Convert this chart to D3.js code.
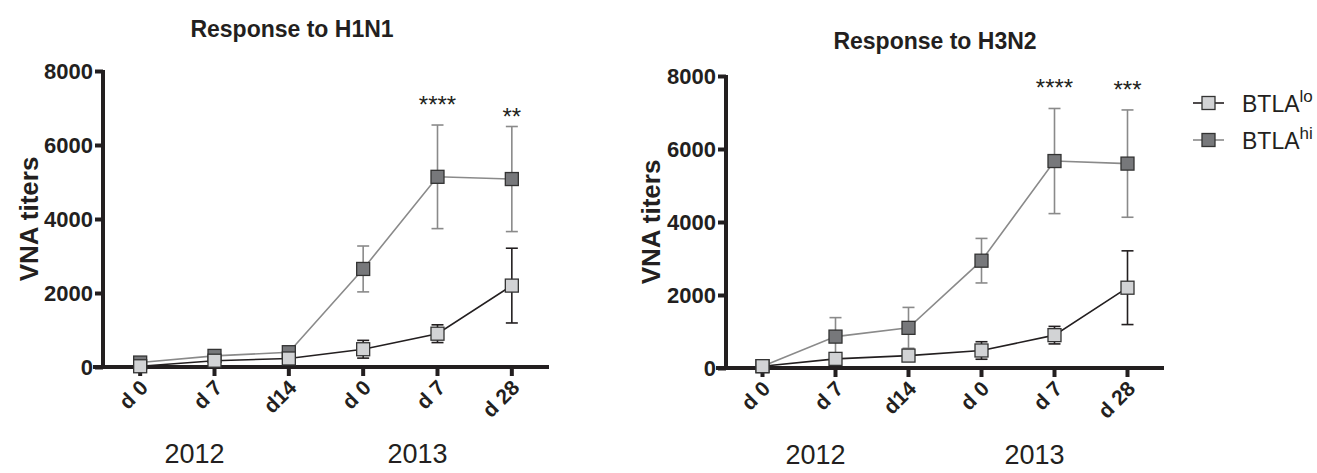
<!DOCTYPE html>
<html>
<head>
<meta charset="utf-8">
<script src="https://cdn.jsdelivr.net/npm/d3@7"></script>
<style>
  body { margin: 0; background: #fff; }
  svg { font-family: "Liberation Sans", Arial, sans-serif; }
</style>
</head>
<body>
<div id="chart"></div>
<script>
// timepoints and years
const timepoints = ["d 0", "d 7", "d14", "d 0", "d 7", "d 28"];
const years = ["2012", "2013"];
const yTicks = [0, 2000, 4000, 6000, 8000];

// H1N1 panel
const h1Lo = [20, 170, 230, 480, 900, 2200];
const h1LoErr = [20, 40, 50, 240, 240, 1010];
const h1Hi = [120, 300, 400, 2650, 5140, 5080];
const h1HiErr = [60, 60, 60, 620, 1400, 1420];
const h1Stars = [null, null, null, null, "****", "**"];

// H3N2 panel
const h3Lo = [50, 250, 340, 480, 900, 2200];
const h3LoErr = [20, 60, 70, 240, 240, 1010];
const h3Hi = [50, 860, 1100, 2940, 5670, 5600];
const h3HiErr = [20, 520, 560, 610, 1440, 1470];
const h3Stars = [null, null, null, null, "****", "***"];

const ink = "#231f20";
const loFill = "#d2d3d5", hiFill = "#77787b";
const loLine = "#231f20", hiLine = "#8a8a8a";

const W = 1317, H = 473;
const svg = d3.select("#chart").append("svg").attr("width", W).attr("height", H);

function panel(opt) {
    const g = svg.append("g");
    const x = d3.scaleBand().domain(d3.range(timepoints.length)).range([opt.x0, opt.x1]);
    const y = d3.scaleLinear().domain([0, 8000]).range([opt.y0, opt.y1]);
    const cx = i => x(i) + x.bandwidth() / 2;

    // title
    g.append("text").attr("x", opt.titleX).attr("y", opt.titleY)
        .attr("text-anchor", "middle").attr("font-weight", "bold").attr("font-size", 23)
        .attr("fill", ink).text(opt.title);

    // y axis
    const ya = g.append("g").attr("transform", `translate(${opt.x0},0)`)
        .call(d3.axisLeft(y).tickValues(yTicks).tickSize(8).tickPadding(2).tickFormat(d3.format("d")));
    ya.select(".domain").attr("stroke", ink).attr("stroke-width", 4).attr("d", `M0,${opt.y1 - 1}V${opt.y0}`);
    ya.selectAll(".tick line").attr("stroke", ink).attr("stroke-width", 4);
    ya.selectAll(".tick text").attr("fill", ink).attr("font-size", 22).attr("font-weight", "bold")
        .attr("font-family", "Liberation Sans, Arial, sans-serif");

    // x axis
    const xa = g.append("g").attr("transform", `translate(0,${opt.y0})`)
        .call(d3.axisBottom(x).tickSize(9).tickFormat(i => timepoints[i]));
    xa.select(".domain").attr("stroke", ink).attr("stroke-width", 4).attr("d", `M${opt.x0 - 10},0H${opt.x1}`);
    xa.selectAll(".tick line").attr("stroke", ink).attr("stroke-width", 4);
    xa.selectAll(".tick text")
        .attr("fill", ink).attr("font-size", 21).attr("font-weight", "bold")
        .attr("font-family", "Liberation Sans, Arial, sans-serif")
        .attr("text-anchor", "end").attr("dy", null).attr("y", 0)
        .attr("transform", "translate(9,22) rotate(-45)");

    // y label
    g.append("text").attr("transform", `translate(${opt.labelX},${(opt.y0 + opt.y1) / 2}) rotate(-90)`)
        .attr("text-anchor", "middle").attr("font-weight", "bold").attr("font-size", 26)
        .attr("fill", ink).text("VNA titers");

    // years
    [[0, 2], [3, 5]].forEach((grp, k) => {
        g.append("text").attr("x", (cx(grp[0]) + cx(grp[1])) / 2 - 20).attr("y", opt.y0 + 96)
            .attr("text-anchor", "middle").attr("font-size", 27).attr("fill", ink).text(years[k]);
    });

    const series = [
        { vals: opt.hi, err: opt.hiErr, fill: hiFill, line: hiLine },
        { vals: opt.lo, err: opt.loErr, fill: loFill, line: loLine }
    ];
    const line = d3.line().x((d, i) => cx(i)).y(d => y(d));
    series.forEach(s => {
        const sg = g.append("g");
        const pts = s.vals.map((v, i) => ({ i, v, e: s.err[i] }));
        sg.selectAll("line.err").data(pts).join("line")
            .attr("x1", d => cx(d.i)).attr("x2", d => cx(d.i))
            .attr("y1", d => y(d.v - d.e)).attr("y2", d => y(d.v + d.e))
            .attr("stroke", s.line).attr("stroke-width", 1.6);
        ["-", "+"].forEach(sign => {
            sg.selectAll("line.cap" + (sign === "-" ? "lo" : "hi")).data(pts).join("line")
                .attr("x1", d => cx(d.i) - 6).attr("x2", d => cx(d.i) + 6)
                .attr("y1", d => y(sign === "-" ? d.v - d.e : d.v + d.e))
                .attr("y2", d => y(sign === "-" ? d.v - d.e : d.v + d.e))
                .attr("stroke", s.line).attr("stroke-width", 1.6);
        });
        sg.append("path").datum(s.vals).attr("d", line)
            .attr("fill", "none").attr("stroke", s.line).attr("stroke-width", 1.6);
        sg.selectAll("rect").data(pts).join("rect")
            .attr("x", d => cx(d.i) - 6.5).attr("y", d => y(d.v) - 6.5)
            .attr("width", 13).attr("height", 13)
            .attr("fill", s.fill).attr("stroke", "#333").attr("stroke-width", 1.3);
    });

    // significance stars
    opt.stars.forEach((st, i) => {
        if (!st) return;
        g.append("text").attr("x", cx(i)).attr("y", y(opt.hi[i] + opt.hiErr[i]) - opt.starGap[i])
            .attr("text-anchor", "middle").attr("font-size", 24).attr("fill", ink).text(st);
    });
}

panel({
    title: "Response to H1N1", titleX: 292, titleY: 37,
    x0: 103, x1: 549, y0: 367, y1: 71, labelX: 38,
    lo: h1Lo, loErr: h1LoErr, hi: h1Hi, hiErr: h1HiErr, stars: h1Stars,
    starGap: [0, 0, 0, 0, 12, 2]
});
panel({
    title: "Response to H3N2", titleX: 935, titleY: 49,
    x0: 726, x1: 1164, y0: 368, y1: 76, labelX: 660,
    lo: h3Lo, loErr: h3LoErr, hi: h3Hi, hiErr: h3HiErr, stars: h3Stars,
    starGap: [0, 0, 0, 0, 12, 12]
});

// legend
const legend = svg.append("g").attr("transform", "translate(1193,0)");
[["lo", loFill, loLine, 103], ["hi", hiFill, hiLine, 140]].forEach(([sup, fill, stroke, yy]) => {
    legend.append("line").attr("x1", 0).attr("x2", 31).attr("y1", yy).attr("y2", yy)
        .attr("stroke", stroke).attr("stroke-width", 1.6);
    legend.append("rect").attr("x", 9).attr("y", yy - 6.5).attr("width", 13).attr("height", 13)
        .attr("fill", fill).attr("stroke", "#333").attr("stroke-width", 1.3);
    const t = legend.append("text").attr("x", 49).attr("y", yy + 9).attr("font-size", 23).attr("fill", ink);
    t.append("tspan").text("BTLA");
    t.append("tspan").attr("font-size", 17).attr("dy", -10).text(sup);
});
</script>
</body>
</html>
